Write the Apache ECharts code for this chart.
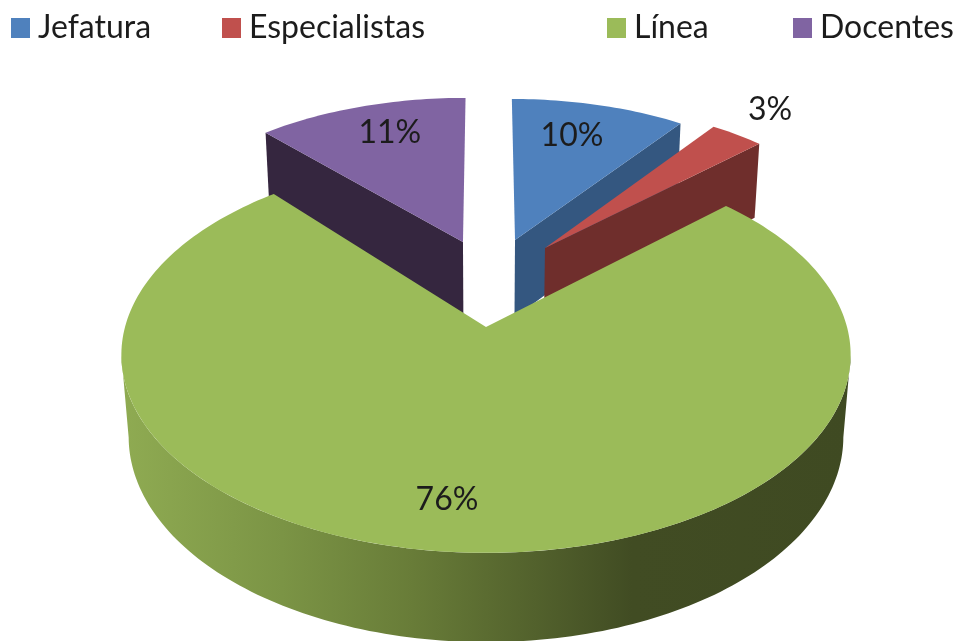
<!DOCTYPE html>
<html>
<head>
<meta charset="utf-8">
<style>html,body{margin:0;padding:0;background:#fff}#c{width:958px;height:641px}</style>
<script src="https://cdn.jsdelivr.net/npm/echarts@6/dist/echarts.min.js"></script>
</head>
<body>
<div id="c"></div>
<script>
// ---- chart data ----
const categories = ['Jefatura', 'Especialistas', 'Línea', 'Docentes'];
const values = [10, 3, 76, 11];
const colors = ['#4f81bd', '#c0504d', '#9bbb59', '#8064a2'];
const wallColors = ['#345780', '#6f2e2c', null, '#35263f'];

// ---- layout of the tilted disc (disc units: radius of the large slice = 1) ----
const CX = 486, CY = 327, SCALE_X = 361, SCALE_Y = 194, DROP = 83;
const PERSP_Y = 0.141, PERSP_Z = 0.02;
const explodeX = [0.0858, 0.1734, 0, -0.068];
const explodeY = [0.479, 0.432, 0, 0.467];
const radii = [0.93, 0.96, 1, 0.95];
const startShiftDeg = [0, 0, 0, -3];
const endShiftDeg = [0, 0, -1, 0];
const labelX = [0.2766, 0.934, -0.096, -0.31];
const labelY = [1.143, 1.328, -0.792, 1.164];
const seriesZ = [3, 4, 5, 2];

const total = values.reduce((a, b) => a + b, 0);
const RAD = Math.PI / 180;
function project(x, y, t) {
  const w = 1 + PERSP_Y * y + PERSP_Z * t;
  return [CX + SCALE_X * x / w, CY - (SCALE_Y * y - DROP * t) / w];
}
function sliceAngles(i) {
  let before = 0;
  for (let k = 0; k < i; k++) before += values[k];
  return [
    before / total * Math.PI * 2 + startShiftDeg[i] * RAD,
    (before + values[i]) / total * Math.PI * 2 + endShiftDeg[i] * RAD
  ];
}
function rim(i, a, t) {
  return project(explodeX[i] + radii[i] * Math.sin(a), explodeY[i] + radii[i] * Math.cos(a), t);
}
function arc(i, a0, a1, t) {
  const pts = [], n = Math.max(8, Math.ceil(Math.abs(a1 - a0) / 0.02));
  for (let k = 0; k <= n; k++) pts.push(rim(i, a0 + (a1 - a0) * k / n, t));
  return pts;
}
function poly(points, fill) {
  return { type: 'polygon', shape: { points }, style: { fill } };
}

function renderSlice(params, api) {
  const i = categories.indexOf(params.seriesName);
  const [a0, a1] = sliceAngles(i);
  const apex0 = project(explodeX[i], explodeY[i], 0);
  const apex1 = project(explodeX[i], explodeY[i], 1);
  const children = [];
  if (wallColors[i]) {
    // the radial wall that faces the viewer
    const faceA = (i === 0 || i === 1) ? a1 : a0;
    children.push(poly([apex0, rim(i, faceA, 0), rim(i, faceA, 1), apex1], wallColors[i]));
  } else {
    // front rim wall between the widest points of the disc, shaded left to right
    const near0 = Math.acos(-PERSP_Y), near1 = Math.PI * 2 - near0;
    const pts = arc(i, near0, near1, 0).concat(arc(i, near1, near0, 1));
    children.push(poly(pts, new echarts.graphic.LinearGradient(0, 0, 1, 0, [
      { offset: 0, color: '#8fab52' },
      { offset: 0.22, color: '#7b9445' },
      { offset: 0.4, color: '#687c38' },
      { offset: 0.7, color: '#414c23' },
      { offset: 1, color: '#3f4a22' }
    ])));
  }
  children.push(poly([apex0].concat(arc(i, a0, a1, 0)), colors[i]));
  const lp = project(labelX[i], labelY[i], 0);
  children.push({
    type: 'text',
    style: {
      x: lp[0], y: lp[1],
      text: Math.round(api.value(0) / total * 100) + '%',
      fill: '#1c1c1c',
      font: '32px Lato',
      align: 'center',
      verticalAlign: 'middle'
    }
  });
  return { type: 'group', children };
}

const legendLeft = [11, 222, 607, 793];
const chart = echarts.init(document.getElementById('c'), null, { renderer: 'canvas' });
chart.setOption({
  animation: false,
  backgroundColor: '#fff',
  legend: categories.map((name, i) => ({
    data: [name],
    left: legendLeft[i],
    top: 12,
    padding: 0,
    itemWidth: 19,
    itemHeight: 20,
    icon: 'rect',
    selectedMode: false,
    textStyle: { fontFamily: 'Lato', fontSize: 32, color: '#1c1c1c', padding: [0, 0, 0, 3] }
  })),
  series: categories.map((name, i) => ({
    type: 'custom',
    name,
    coordinateSystem: 'none',
    z: seriesZ[i],
    itemStyle: { color: colors[i] },
    renderItem: renderSlice,
    data: [[values[i]]]
  }))
});
</script>
</body>
</html>
